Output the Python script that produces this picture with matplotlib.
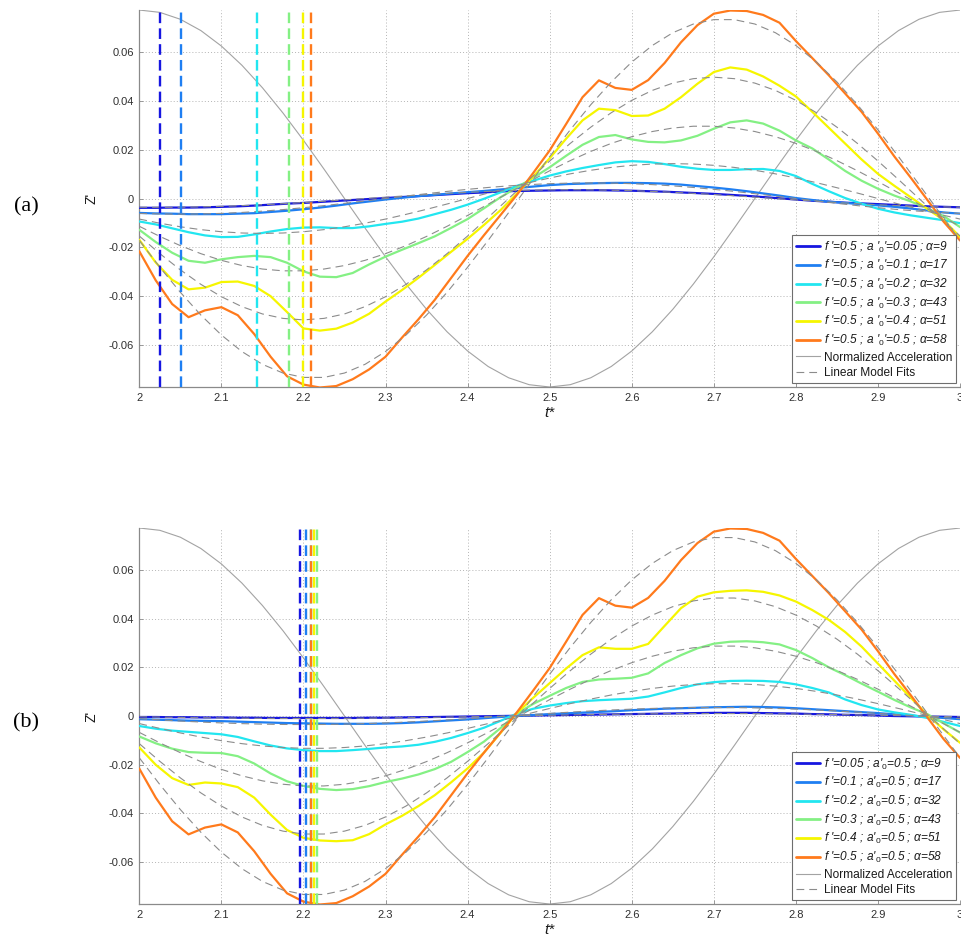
import numpy as np
import matplotlib
matplotlib.use("Agg")
import matplotlib.pyplot as plt

plt.rcParams['font.family'] = ['Liberation Sans', 'DejaVu Sans']
plt.rcParams['mathtext.fontset'] = 'custom'
plt.rcParams['mathtext.it'] = 'Liberation Sans:italic'
plt.rcParams['mathtext.rm'] = 'Liberation Sans'
plt.rcParams['mathtext.default'] = 'it'

# sample times: response curves every 0.02, fits and acceleration every 0.025
t_resp = np.round(np.arange(2.0, 3.0001, 0.02), 3)
t_fit = np.round(np.arange(2.0, 3.0001, 0.025), 4)

x_ticks = [2.0, 2.1, 2.2, 2.3, 2.4, 2.5, 2.6, 2.7, 2.8, 2.9, 3.0]
x_ticklabels = ['2', '2.1', '2.2', '2.3', '2.4', '2.5', '2.6', '2.7', '2.8', '2.9', '3']
y_ticks = [-0.06, -0.04, -0.02, 0.0, 0.02, 0.04, 0.06]
y_ticklabels = ['-0.06', '-0.04', '-0.02', '0', '0.02', '0.04', '0.06']
y_limit = 0.0772

# normalized acceleration
accel_norm = [0.0772, 0.07625, 0.07342, 0.06879, 0.06245, 0.05459, 0.04538, 0.03505, 0.02385, 0.01207,
              0.0, -0.01207, -0.02385, -0.03505, -0.04538, -0.05459, -0.06245, -0.06879, -0.07342, -0.07625,
              -0.0772, -0.07625, -0.07342, -0.06879, -0.06245, -0.05459, -0.04538, -0.03505, -0.02385, -0.01207,
              0.0, 0.01207, 0.02385, 0.03505, 0.04538, 0.05459, 0.06245, 0.06879, 0.07342, 0.07625,
              0.0772]

colors = ['#1616e0', '#1f7ff2', '#22e6f0', '#84f084', '#f6f600', '#ff7a1c']

# ---- panel (a): f' = 0.5, varying a'_0 ----
za_005 = [-0.0038, -0.0038, -0.0037, -0.0037, -0.0036, -0.0034, -0.0032, -0.0029, -0.0025, -0.0021,
          -0.0018, -0.0014, -0.0010, -0.0006, -0.0002, 0.0002, 0.0006, 0.0010, 0.0014, 0.0018,
          0.0022, 0.0025, 0.0029, 0.0031, 0.0032, 0.0033, 0.0034, 0.0034, 0.0034, 0.0033,
          0.0032, 0.0030, 0.0028, 0.0025, 0.0022, 0.0019, 0.0015, 0.0011, 0.0006, 0.0001,
          -0.0004, -0.0009, -0.0013, -0.0017, -0.0020, -0.0023, -0.0026, -0.0029, -0.0032, -0.0034,
          -0.0036]
za_01 = [-0.0059, -0.0061, -0.0062, -0.0064, -0.0064, -0.0064, -0.0062, -0.0060, -0.0055, -0.0050,
         -0.0044, -0.0037, -0.0029, -0.0020, -0.0012, -0.0004, 0.0003, 0.0010, 0.0015, 0.0021,
         0.0026, 0.0031, 0.0037, 0.0043, 0.0049, 0.0055, 0.0059, 0.0061, 0.0063, 0.0064,
         0.0064, 0.0063, 0.0061, 0.0057, 0.0051, 0.0045, 0.0038, 0.0030, 0.0021, 0.0012,
         0.0002, -0.0006, -0.0013, -0.0018, -0.0023, -0.0028, -0.0034, -0.0041, -0.0049, -0.0057,
         -0.0062]
za_02 = [-0.0094, -0.0106, -0.0122, -0.0138, -0.0151, -0.0158, -0.0157, -0.0147, -0.0135, -0.0125,
         -0.0119, -0.0118, -0.0121, -0.0121, -0.0114, -0.0104, -0.0095, -0.0082, -0.0064, -0.0046,
         -0.0025, -0.0001, 0.0025, 0.0052, 0.0073, 0.0094, 0.0111, 0.0125, 0.0137, 0.0148,
         0.0153, 0.0150, 0.0141, 0.0130, 0.0122, 0.0117, 0.0117, 0.0120, 0.0121, 0.0113,
         0.0092, 0.0060, 0.0030, 0.0002, -0.0021, -0.0042, -0.0057, -0.0069, -0.0079, -0.0089,
         -0.0101]
za_03 = [-0.0128, -0.0178, -0.0222, -0.0255, -0.0263, -0.0249, -0.0240, -0.0235, -0.0240, -0.0263,
         -0.0298, -0.0320, -0.0322, -0.0305, -0.0270, -0.0238, -0.0210, -0.0183, -0.0155, -0.0120,
         -0.0084, -0.0040, 0.0005, 0.0045, 0.0085, 0.0128, 0.0175, 0.0220, 0.0252, 0.0260,
         0.0242, 0.0232, 0.0230, 0.0238, 0.0257, 0.0286, 0.0312, 0.0320, 0.0307, 0.0278,
         0.0238, 0.0205, 0.0160, 0.0113, 0.0073, 0.0040, 0.0012, -0.0012, -0.0040, -0.0072,
         -0.0117]
za_04 = [-0.0169, -0.0262, -0.0333, -0.0372, -0.0365, -0.0342, -0.0340, -0.0358, -0.0400, -0.0465,
         -0.0532, -0.0541, -0.0533, -0.0508, -0.0472, -0.0422, -0.0375, -0.0325, -0.0272, -0.0218,
         -0.0165, -0.0108, -0.0048, 0.0020, 0.0090, 0.0165, 0.0245, 0.0320, 0.0368, 0.0362,
         0.0338, 0.0340, 0.0368, 0.0415, 0.0470, 0.0518, 0.0537, 0.0528, 0.0500, 0.0462,
         0.0418, 0.0355, 0.0290, 0.0225, 0.0160, 0.0101, 0.0052, 0.0005, -0.0042, -0.0088,
         -0.0158]
# f' = 0.5, a'_0 = 0.5 appears in both panels
z_05_05 = [-0.0216, -0.0335, -0.0432, -0.0486, -0.0458, -0.0445, -0.0478, -0.0555, -0.0648, -0.0728,
           -0.0762, -0.0774, -0.0768, -0.0740, -0.0700, -0.0648, -0.0570, -0.0495, -0.0415, -0.0325,
           -0.0235, -0.0150, -0.0068, 0.0015, 0.0105, 0.0197, 0.0305, 0.0415, 0.0484, 0.0453,
           0.0445, 0.0485, 0.0555, 0.0640, 0.0710, 0.0757, 0.0770, 0.0768, 0.0752, 0.0720,
           0.0645, 0.0575, 0.0505, 0.0430, 0.0355, 0.0266, 0.0172, 0.0085, -0.0005, -0.0095,
           -0.0172]

fa_005 = [-0.00356, -0.0036, -0.00356, -0.00342, -0.00321, -0.00291, -0.00255, -0.00212, -0.00163, -0.00111,
          -0.00056, 0.0, 0.00056, 0.00111, 0.00163, 0.00212, 0.00255, 0.00291, 0.00321, 0.00342,
          0.00356, 0.0036, 0.00356, 0.00342, 0.00321, 0.00291, 0.00255, 0.00212, 0.00163, 0.00111,
          0.00056, 0.0, -0.00056, -0.00111, -0.00163, -0.00212, -0.00255, -0.00291, -0.00321, -0.00342,
          -0.00356]
fa_01 = [-0.00609, -0.00632, -0.0064, -0.00632, -0.00609, -0.0057, -0.00518, -0.00453, -0.00376, -0.00291,
         -0.00198, -0.001, 0.0, 0.001, 0.00198, 0.00291, 0.00376, 0.00453, 0.00518, 0.0057,
         0.00609, 0.00632, 0.0064, 0.00632, 0.00609, 0.0057, 0.00518, 0.00453, 0.00376, 0.00291,
         0.00198, 0.001, 0.0, -0.001, -0.00198, -0.00291, -0.00376, -0.00453, -0.00518, -0.0057,
         -0.00609]
fa_02 = [-0.00841, -0.01011, -0.01157, -0.01274, -0.0136, -0.01412, -0.0143, -0.01412, -0.0136, -0.01274,
         -0.01157, -0.01011, -0.00841, -0.00649, -0.00442, -0.00224, 0.0, 0.00224, 0.00442, 0.00649,
         0.00841, 0.01011, 0.01157, 0.01274, 0.0136, 0.01412, 0.0143, 0.01412, 0.0136, 0.01274,
         0.01157, 0.01011, 0.00841, 0.00649, 0.00442, 0.00224, 0.0, -0.00224, -0.00442, -0.00649,
         -0.00841]
fa_03 = [-0.01137, -0.01552, -0.01929, -0.02258, -0.02532, -0.02744, -0.02888, -0.02961, -0.02961, -0.02888,
         -0.02744, -0.02532, -0.02258, -0.01929, -0.01552, -0.01137, -0.00693, -0.00233, 0.00233, 0.00693,
         0.01137, 0.01552, 0.01929, 0.02258, 0.02532, 0.02744, 0.02888, 0.02961, 0.02961, 0.02888,
         0.02744, 0.02532, 0.02258, 0.01929, 0.01552, 0.01137, 0.00693, 0.00233, -0.00233, -0.00693,
         -0.01137]
fa_04 = [-0.01536, -0.02256, -0.02921, -0.03514, -0.04021, -0.04428, -0.04727, -0.04909, -0.0497, -0.04909,
         -0.04727, -0.04428, -0.04021, -0.03514, -0.02921, -0.02256, -0.01536, -0.00777, 0.0, 0.00777,
         0.01536, 0.02256, 0.02921, 0.03514, 0.04021, 0.04428, 0.04727, 0.04909, 0.0497, 0.04909,
         0.04727, 0.04428, 0.04021, 0.03514, 0.02921, 0.02256, 0.01536, 0.00777, 0.0, -0.00777,
         -0.01536]
f_05_05 = [-0.01716, -0.02813, -0.0384, -0.04773, -0.05589, -0.06267, -0.06791, -0.07147, -0.07327, -0.07327,
           -0.07147, -0.06791, -0.06267, -0.05589, -0.04773, -0.0384, -0.02813, -0.01716, -0.00577, 0.00577,
           0.01716, 0.02813, 0.0384, 0.04773, 0.05589, 0.06267, 0.06791, 0.07147, 0.07327, 0.07327,
           0.07147, 0.06791, 0.06267, 0.05589, 0.04773, 0.0384, 0.02813, 0.01716, 0.00577, -0.00577,
           -0.01716]

lag_a = [2.0256, 2.0514, 2.1437, 2.1824, 2.1991, 2.2098]
labels_a = ["f '=0.5 ; a '$_0$'=0.05 ; \u03b1=9",
            "f '=0.5 ; a '$_0$'=0.1 ; \u03b1=17",
            "f '=0.5 ; a '$_0$'=0.2 ; \u03b1=32",
            "f '=0.5 ; a '$_0$'=0.3 ; \u03b1=43",
            "f '=0.5 ; a '$_0$'=0.4 ; \u03b1=51",
            "f '=0.5 ; a '$_0$'=0.5 ; \u03b1=58"]

# ---- panel (b): a'_0 = 0.5, varying f' ----
zb_005 = [-0.0004, -0.0004, -0.0005, -0.0005, -0.0006, -0.0006, -0.0007, -0.0007, -0.0008, -0.0008,
          -0.0008, -0.0008, -0.0008, -0.0008, -0.0007, -0.0007, -0.0006, -0.0005, -0.0004, -0.0003,
          -0.0002, -0.0001, 0.0000, 0.0001, 0.0002, 0.0003, 0.0004, 0.0005, 0.0006, 0.0007,
          0.0008, 0.0009, 0.0010, 0.0011, 0.0012, 0.0013, 0.0013, 0.0013, 0.0012, 0.0011,
          0.0010, 0.0008, 0.0007, 0.0005, 0.0004, 0.0002, 0.0000, -0.0001, -0.0002, -0.0003,
          -0.0004]
zb_01 = [-0.0013, -0.0015, -0.0017, -0.0019, -0.0020, -0.0021, -0.0023, -0.0025, -0.0027, -0.0029,
         -0.0030, -0.0031, -0.0032, -0.0032, -0.0032, -0.0031, -0.0029, -0.0026, -0.0022, -0.0018,
         -0.0014, -0.0009, -0.0004, 0.0001, 0.0004, 0.0008, 0.0011, 0.0014, 0.0017, 0.0020,
         0.0024, 0.0027, 0.0030, 0.0032, 0.0034, 0.0036, 0.0037, 0.0038, 0.0037, 0.0035,
         0.0032, 0.0028, 0.0024, 0.0020, 0.0016, 0.0012, 0.0007, 0.0002, -0.0003, -0.0008,
         -0.0013]
zb_02 = [-0.0041, -0.0052, -0.0060, -0.0065, -0.0070, -0.0075, -0.0086, -0.0104, -0.0121, -0.0133,
         -0.0140, -0.0144, -0.0144, -0.0140, -0.0135, -0.0129, -0.0125, -0.0118, -0.0106, -0.0090,
         -0.0070, -0.0048, -0.0020, 0.0010, 0.0030, 0.0043, 0.0053, 0.0061, 0.0065, 0.0068,
         0.0071, 0.0080, 0.0097, 0.0115, 0.0130, 0.0139, 0.0144, 0.0145, 0.0144, 0.0140,
         0.0130, 0.0115, 0.0097, 0.0068, 0.0045, 0.0027, 0.0015, 0.0005, -0.0008, -0.0024,
         -0.0041]
zb_03 = [-0.0084, -0.0112, -0.0134, -0.0148, -0.0151, -0.0152, -0.0165, -0.0195, -0.0236, -0.0268,
         -0.0287, -0.0299, -0.0304, -0.0300, -0.0288, -0.0271, -0.0257, -0.0240, -0.0218, -0.0188,
         -0.0148, -0.0105, -0.0050, 0.0010, 0.0050, 0.0083, 0.0115, 0.0140, 0.0150, 0.0153,
         0.0157, 0.0175, 0.0218, 0.0250, 0.0278, 0.0297, 0.0305, 0.0307, 0.0303, 0.0294,
         0.0271, 0.0238, 0.0200, 0.0168, 0.0133, 0.0100, 0.0066, 0.0035, 0.0008, -0.0030,
         -0.0068]
zb_04 = [-0.0129, -0.0200, -0.0255, -0.0283, -0.0273, -0.0277, -0.0292, -0.0335, -0.0405, -0.0468,
         -0.0500, -0.0511, -0.0514, -0.0510, -0.0485, -0.0445, -0.0410, -0.0370, -0.0325, -0.0272,
         -0.0215, -0.0150, -0.0070, 0.0012, 0.0075, 0.0135, 0.0195, 0.0250, 0.0282, 0.0276,
         0.0276, 0.0296, 0.0370, 0.0443, 0.0490, 0.0508, 0.0514, 0.0516, 0.0510, 0.0495,
         0.0470, 0.0435, 0.0395, 0.0345, 0.0285, 0.0215, 0.0145, 0.0075, 0.0005, -0.0055,
         -0.0110]

fb_005 = [-0.00031, -0.00045, -0.00059, -0.00071, -0.00081, -0.00089, -0.00095, -0.00099, -0.001, -0.00099,
          -0.00095, -0.00089, -0.00081, -0.00071, -0.00059, -0.00045, -0.00031, -0.00016, 0.0, 0.00016,
          0.00031, 0.00045, 0.00059, 0.00071, 0.00081, 0.00089, 0.00095, 0.00099, 0.001, 0.00099,
          0.00095, 0.00089, 0.00081, 0.00071, 0.00059, 0.00045, 0.00031, 0.00016, 0.0, -0.00016,
          -0.00031]
fb_01 = [-0.00108, -0.00159, -0.00206, -0.00247, -0.00283, -0.00312, -0.00333, -0.00346, -0.0035, -0.00346,
         -0.00333, -0.00312, -0.00283, -0.00247, -0.00206, -0.00159, -0.00108, -0.00055, 0.0, 0.00055,
         0.00108, 0.00159, 0.00206, 0.00247, 0.00283, 0.00312, 0.00333, 0.00346, 0.0035, 0.00346,
         0.00333, 0.00312, 0.00283, 0.00247, 0.00206, 0.00159, 0.00108, 0.00055, 0.0, -0.00055,
         -0.00108]
fb_02 = [-0.0031, -0.00509, -0.00695, -0.00864, -0.01011, -0.01134, -0.01229, -0.01293, -0.01326, -0.01326,
         -0.01293, -0.01229, -0.01134, -0.01011, -0.00864, -0.00695, -0.00509, -0.0031, -0.00104, 0.00104,
         0.0031, 0.00509, 0.00695, 0.00864, 0.01011, 0.01134, 0.01229, 0.01293, 0.01326, 0.01326,
         0.01293, 0.01229, 0.01134, 0.01011, 0.00864, 0.00695, 0.00509, 0.0031, 0.00104, -0.00104,
         -0.0031]
fb_03 = [-0.00672, -0.01102, -0.01505, -0.0187, -0.0219, -0.02455, -0.02661, -0.02801, -0.02871, -0.02871,
         -0.02801, -0.02661, -0.02455, -0.0219, -0.0187, -0.01505, -0.01102, -0.00672, -0.00226, 0.00226,
         0.00672, 0.01102, 0.01505, 0.0187, 0.0219, 0.02455, 0.02661, 0.02801, 0.02871, 0.02871,
         0.02801, 0.02661, 0.02455, 0.0219, 0.0187, 0.01505, 0.01102, 0.00672, 0.00226, -0.00226,
         -0.00672]
fb_04 = [-0.01134, -0.0186, -0.02539, -0.03156, -0.03695, -0.04144, -0.0449, -0.04726, -0.04845, -0.04845,
         -0.04726, -0.0449, -0.04144, -0.03695, -0.03156, -0.02539, -0.0186, -0.01134, -0.00382, 0.00382,
         0.01134, 0.0186, 0.02539, 0.03156, 0.03695, 0.04144, 0.0449, 0.04726, 0.04845, 0.04845,
         0.04726, 0.0449, 0.04144, 0.03695, 0.03156, 0.02539, 0.0186, 0.01134, 0.00382, -0.00382,
         -0.01134]

lag_b = [2.1955, 2.2035, 2.2088, 2.2160, 2.2130, 2.2098]
labels_b = ["f '=0.05 ; a'$_0$=0.5 ; \u03b1=9",
            "f '=0.1 ; a'$_0$=0.5 ; \u03b1=17",
            "f '=0.2 ; a'$_0$=0.5 ; \u03b1=32",
            "f '=0.3 ; a'$_0$=0.5 ; \u03b1=43",
            "f '=0.4 ; a'$_0$=0.5 ; \u03b1=51",
            "f '=0.5 ; a'$_0$=0.5 ; \u03b1=58"]

AXIS_GRAY = '#8a8a8a'
TEXT_GRAY = '#303030'


def draw_panel(ax, curves, fits, lags, labels):
    acc_line, = ax.plot(t_fit, accel_norm, color='#a3a3a3', lw=0.8, zorder=2)
    handles = []
    for z, c in zip(curves, colors):
        h, = ax.plot(t_resp, z, color=c, lw=1.6, zorder=3,
                     solid_capstyle='round', solid_joinstyle='round')
        handles.append(h)
    fit_line = None
    for f in fits:
        fit_line, = ax.plot(t_fit, f, color='#8c8c8c', lw=0.8, dashes=(7, 4.5), zorder=4)
    for x, c in zip(lags, colors):
        ax.axvline(x, color=c, lw=1.7, dashes=(4.5, 2.2), zorder=5)

    ax.set_xlim(2.0, 3.0)
    ax.set_ylim(-y_limit, y_limit)
    ax.set_xticks(x_ticks)
    ax.set_xticklabels(x_ticklabels)
    ax.set_yticks(y_ticks)
    ax.set_yticklabels(y_ticklabels)
    ax.grid(True, color='#b4b4b4', linestyle=(0, (1, 2.2)), lw=0.7)
    ax.set_axisbelow(True)
    for side in ('top', 'right'):
        ax.spines[side].set_visible(False)
    for side in ('left', 'bottom'):
        ax.spines[side].set_color(AXIS_GRAY)
        ax.spines[side].set_linewidth(0.9)
    ax.tick_params(direction='in', length=3, width=0.6, color=AXIS_GRAY,
                   labelsize=8, labelcolor=TEXT_GRAY, pad=4)

    ax.set_xlabel("$t$*", fontsize=11, color='#1a1a1a')
    ax.xaxis.set_label_coords(0.5, -0.05)
    ax.set_ylabel("Z'", fontsize=10, color='#1a1a1a')
    ax.yaxis.set_label_coords(-0.05, 0.5)

    leg = ax.legend(handles + [acc_line, fit_line],
                    labels + ['Normalized Acceleration', 'Linear Model Fits'],
                    loc='lower right', fontsize=8.6, frameon=True, fancybox=False,
                    framealpha=1.0, edgecolor='#6e6e6e', borderaxespad=0.3,
                    handlelength=2.0, handletextpad=0.3, labelspacing=0.3,
                    borderpad=0.35)
    leg.get_frame().set_linewidth(0.8)
    leg.set_zorder(10)
    for txt in leg.get_texts()[:6]:
        txt.set_fontstyle('italic')
    for txt in leg.get_texts():
        txt.set_color('#1a1a1a')
    for line in leg.get_lines()[:6]:
        line.set_linewidth(2.0)
    return ax


fig = plt.figure(figsize=(9.62, 9.38), dpi=100)
ax_a = fig.add_axes([0.1448, 0.5874, 0.8532, 0.4019])
ax_b = fig.add_axes([0.1448, 0.0362, 0.8532, 0.4009])

draw_panel(ax_a, [za_005, za_01, za_02, za_03, za_04, z_05_05],
           [fa_005, fa_01, fa_02, fa_03, fa_04, f_05_05], lag_a, labels_a)
draw_panel(ax_b, [zb_005, zb_01, zb_02, zb_03, zb_04, z_05_05],
           [fb_005, fb_01, fb_02, fb_03, fb_04, f_05_05], lag_b, labels_b)

fig.text(26 / 962, 1 - 207 / 938, "(a)", family='Liberation Serif', fontsize=16,
         ha='center', va='center', color='black')
fig.text(26 / 962, 1 - 723 / 938, "(b)", family='Liberation Serif', fontsize=16,
         ha='center', va='center', color='black')

fig.savefig("out.png", dpi=100)
